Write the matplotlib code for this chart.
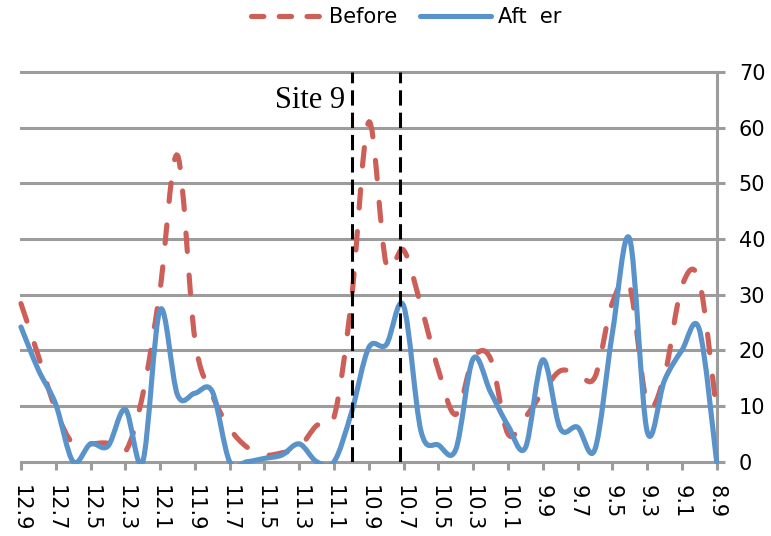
import matplotlib
matplotlib.use("Agg")
import matplotlib.pyplot as plt
from matplotlib.path import Path
from matplotlib.patches import PathPatch, Rectangle
from matplotlib.lines import Line2D

# category labels (every other one is shown on the axis)
categories = ["12.9", "12.8", "12.7", "12.6", "12.5", "12.4", "12.3", "12.2", "12.1", "12.0",
              "11.9", "11.8", "11.7", "11.6", "11.5", "11.4", "11.3", "11.2", "11.1", "11.0",
              "10.9", "10.8", "10.7", "10.6", "10.5", "10.4", "10.3", "10.2", "10.1", "10.0",
              "9.9", "9.8", "9.7", "9.6", "9.5", "9.4", "9.3", "9.2", "9.1", "9.0", "8.9"]

before = [28.4, 19, 9.3, 3.2, 3.2, 3.3, 1.8, 12, 31, 55,
          22, 12, 6, 2.6, 1.2, 1.6, 2.6, 6.5, 8, 29,
          61, 35.5, 38, 28, 16.5, 8.5, 18.5, 18.5, 5, 8,
          12.5, 16.3, 15.8, 15.2, 28.5, 31.5, 10.5, 15.5, 31.5, 32.5, 9]

after = [24.2, 16.5, 10.3, 0, 3.2, 2.8, 9.4, 0, 27.3, 12,
         12.3, 12.6, 0, 0, 0.6, 1.2, 3.2, 0, 0, 8.8,
         20.5, 21, 28, 5.5, 3, 2.2, 18.5, 12.5, 6.5, 2.5,
         18.3, 6, 6.2, 2.2, 23, 40, 5.5, 14.6, 20, 23.8, 0]

site_lines = [19.02, 21.8]   # dashed markers around Site 9

red = "#CD5F59"
blue = "#5A93CA"
grid_gray = "#9C9C9C"


def smooth_path(ys):
    # Excel-like smoothed line: cubic bezier through every point
    n = len(ys)
    xs = list(range(n))
    verts = [(xs[0], ys[0])]
    codes = [Path.MOVETO]
    for k in range(n - 1):
        a = max(k - 1, 0)
        b = min(k + 2, n - 1)
        c1 = (xs[k] + (xs[k + 1] - xs[a]) / 6, ys[k] + (ys[k + 1] - ys[a]) / 6)
        c2 = (xs[k + 1] - (xs[b] - xs[k]) / 6, ys[k + 1] - (ys[b] - ys[k]) / 6)
        verts += [c1, c2, (xs[k + 1], ys[k + 1])]
        codes += [Path.CURVE4] * 3
    return Path(verts, codes)


fig = plt.figure(figsize=(7.71, 5.36), dpi=100)
ax = fig.add_axes([0.0272, 0.1386, 0.9023, 0.7271])
ax.set_xlim(0, len(categories) - 1)
ax.set_ylim(0, 70)

for v in range(0, 71, 10):
    ax.axhline(v, color=grid_gray, lw=2.2, clip_on=False, zorder=0.5)

clip = Rectangle((-1, -0.45), len(categories) + 1, 80, transform=ax.transData)

p_before = PathPatch(smooth_path(before), fill=False, edgecolor=red, lw=3.7,
                     linestyle=(0, (3.6, 4.6)), capstyle="round", zorder=3)
p_after = PathPatch(smooth_path(after), fill=False, edgecolor=blue, lw=3.7,
                    capstyle="round", joinstyle="round", zorder=4)
for p in (p_before, p_after):
    ax.add_patch(p)
    p.set_clip_path(clip)

for xv in site_lines:
    ax.axvline(xv, color="black", lw=2.2, linestyle=(0, (5, 2.3)), zorder=5)

ax.text(18.63, 63.5, "Site 9", ha="right", va="baseline",
        family="Liberation Serif", fontsize=22)

for s in ("top", "left", "bottom"):
    ax.spines[s].set_visible(False)
ax.spines["right"].set_color(grid_gray)
ax.spines["right"].set_linewidth(2.2)

ax.set_xticks(range(0, len(categories), 2))
ax.set_xticklabels(categories[::2], rotation=-90, fontsize=15)
ax.tick_params(axis="x", length=6, width=2.2, color=grid_gray, pad=11)

ax.yaxis.tick_right()
ax.set_yticks(range(0, 71, 10))
ax.tick_params(axis="y", length=6, width=2.2, color=grid_gray, pad=10, labelsize=15)

h_before = Line2D([], [], color=red, lw=3.7, linestyle=(0, (2.4, 3.0)), dash_capstyle="round")
h_after = Line2D([], [], color=blue, lw=3.7, solid_capstyle="round")
fig.legend([h_before, h_after], ["Before", "Aft  er"], loc="center",
           bbox_to_anchor=(0.527, 0.968), ncol=2, frameon=False, fontsize=15,
           handlelength=3.4, handletextpad=0.35, columnspacing=1.1)

fig.savefig("out.png", dpi=100)
